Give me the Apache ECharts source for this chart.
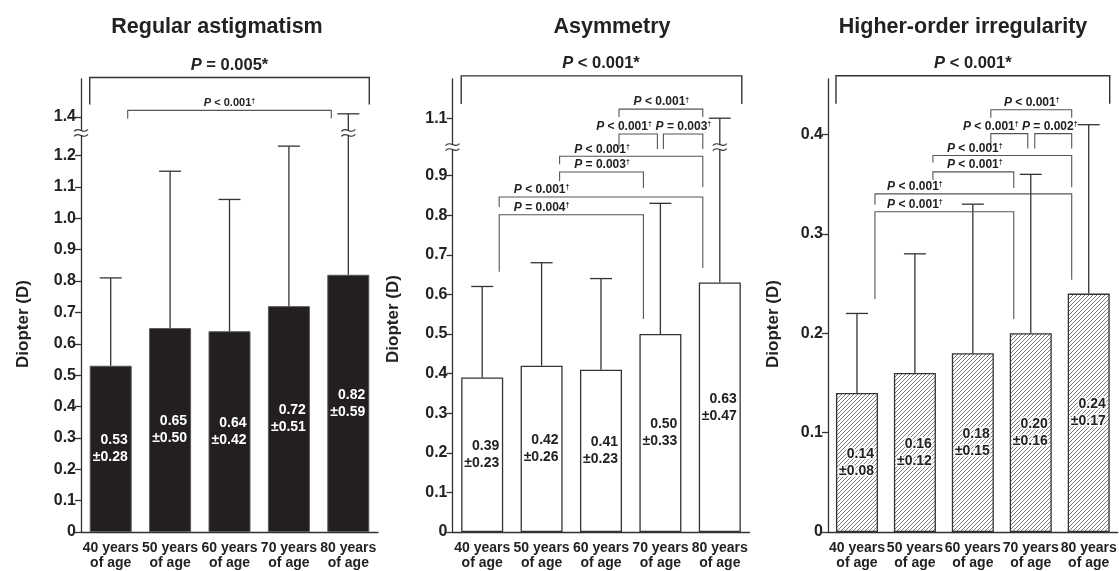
<!DOCTYPE html>
<html><head><meta charset="utf-8">
<script src="https://cdn.jsdelivr.net/npm/echarts@6/dist/echarts.min.js"></script>
<style>html,body{margin:0;padding:0;background:#fff}#c{width:1119px;height:571px}</style>
</head><body><div id="c"></div>
<script>
// ---------- data ----------
const categories = ['40 years\nof age','50 years\nof age','60 years\nof age','70 years\nof age','80 years\nof age'];
const panelTitles = ['Regular astigmatism','Asymmetry','Higher-order irregularity'];
const yAxisName = 'Diopter (D)';
const regularMean = [0.53,0.65,0.64,0.72,0.82];
const regularSD   = [0.28,0.50,0.42,0.51,0.59];
const asymMean = [0.39,0.42,0.41,0.50,0.63];
const asymSD   = [0.23,0.26,0.23,0.33,0.47];
const hoiMean = [0.14,0.16,0.18,0.20,0.24];
const hoiSD   = [0.08,0.12,0.15,0.16,0.17];
const regularTicks = [0,0.1,0.2,0.3,0.4,0.5,0.6,0.7,0.8,0.9,1.0,1.1,1.2,1.4];
const asymTicks = [0,0.1,0.2,0.3,0.4,0.5,0.6,0.7,0.8,0.9,1.1];
const hoiTicks = [0,0.1,0.2,0.3,0.4];
const regularP = ['P = 0.005*','P < 0.001†'];
const asymP = ['P < 0.001*','P < 0.001†','P < 0.001†','P = 0.003†','P < 0.001†','P = 0.003†','P < 0.001†','P = 0.004†'];
const hoiP = ['P < 0.001*','P < 0.001†','P < 0.001†','P = 0.002†','P < 0.001†','P < 0.001†','P < 0.001†','P < 0.001†'];

// ---------- layout (positions / styles) ----------
const FONT = "'Liberation Sans', Arial, Helvetica, sans-serif";
const INK = '#222';
// bracket geometry: [Lcat, Ldx(px), Rcat, Rdx(px), y, legL, legR, labelCat, labelDx(px), big]
const layout = [
  {left:81, titleX:217, nameX:23, nameY:324, max:1.444, brk:{at:1.3,gap:0.077,mark:1.272}, smallFont:11,
   geo:[[0,-21,4,21,1.449,1.363,1.363,2,0,1],[0,17,4,-17,1.344,1.318,1.318,2,0,0]]},
  {left:452.5, titleX:612, nameX:393, nameY:319, max:1.144, brk:{at:1.0,gap:0.055,mark:0.972}, smallFont:12,
   geo:[[0,-21,4,22,1.152,1.081,1.081,2,0,1],
        [2,18,4,-17,1.068,1.048,1.048,3,1,0],
        [2,18,3,-3,1.005,0.967,0.967,2,23,0],
        [3,3,4,-17,1.005,0.967,0.967,3,23,0],
        [1,18,4,-17,0.949,0.929,0.871,2,1,0],
        [1,18,3,-17,0.909,0.886,0.869,2,1,0],
        [0,17,4,-17,0.846,0.821,0.667,1,0,0],
        [0,17,3,-17,0.801,0.657,0.538,1,0,0]]},
  {left:828, titleX:963, nameX:773, nameY:324, max:0.456, brk:null, smallFont:12,
   geo:[[0,-21,4,21,0.4592,0.431,0.431,2,0,1],
        [2,18,4,-17,0.425,0.417,0.417,3,1,0],
        [2,18,3,-3,0.401,0.386,0.386,2,18,0],
        [3,4,4,-17,0.401,0.386,0.386,3,19,0],
        [1,18,4,-17,0.379,0.372,0.347,2,2,0],
        [1,18,3,-17,0.3625,0.3545,0.3464,2,2,0],
        [0,18,4,-17,0.3404,0.3293,0.2538,1,0,0],
        [0,18,3,-17,0.3223,0.2346,0.2145,1,0,0]]}
];
const panels = [
  {mean:regularMean, sd:regularSD, ticks:regularTicks, p:regularP},
  {mean:asymMean, sd:asymSD, ticks:asymTicks, p:asymP},
  {mean:hoiMean, sd:hoiSD, ticks:hoiTicks, p:hoiP}
];

// hatch pattern
const hatch = document.createElement('canvas');
hatch.width = 4; hatch.height = 4;
(function(){
  const c = hatch.getContext('2d');
  c.fillStyle = '#fff'; c.fillRect(0,0,4,4);
  c.strokeStyle = '#444'; c.lineWidth = 0.7;
  c.beginPath();
  c.moveTo(0,4); c.lineTo(4,0);
  c.moveTo(-1,1); c.lineTo(1,-1);
  c.moveTo(3,5); c.lineTo(5,3);
  c.stroke();
})();

function richP(s){ return s.replace(/^P/, '{i|P}').replace('†','{s|†}'); }

const grids=[], xAxes=[], yAxes=[], series=[], titles=[], graphics=[];
panels.forEach((pn, k) => {
  const L = layout[k];
  const f = v => (L.brk && v > L.brk.at) ? v - L.brk.gap : v;
  const inv = d => (L.brk && d > L.brk.mark) ? d + L.brk.gap : d;
  grids.push({left:L.left, width:297, top:79, bottom:39, containLabel:false});
  xAxes.push({type:'category', gridIndex:k, data:categories,
    axisLine:{lineStyle:{color:'#333', width:1.3}}, axisTick:{show:false},
    axisLabel:{interval:0, fontSize:14, fontWeight:'bold', fontFamily:FONT, color:INK, lineHeight:15, margin:9}});
  const tv = pn.ticks.map(f);
  yAxes.push({type:'value', gridIndex:k, min:0, max:L.max,
    axisLine:{show:true, lineStyle:{color:'#333', width:1.3}},
    axisTick:{show:true, length:6, customValues:tv, lineStyle:{color:'#333', width:1.3}},
    splitLine:{show:false},
    axisLabel:{customValues:tv, fontSize:16, fontWeight:'bold', fontFamily:FONT, color:INK, margin:5,
      formatter: v => { const r = inv(v); return Math.abs(r) < 1e-9 ? '0' : r.toFixed(1); }}});
  const itemStyle = k===0 ? {color:'#231f20', borderColor:'#5a5a5a', borderWidth:1}
                  : k===1 ? {color:'#fff', borderColor:'#333', borderWidth:1.3}
                  : {color:{image:hatch, repeat:'repeat'}, borderColor:'#333', borderWidth:1.3};
  series.push({type:'bar', xAxisIndex:k, yAxisIndex:k, barWidth:42, data:pn.mean.map(f), itemStyle,
    label:{show:true, position:'inside', align:'right', offset:[17,0],
      fontSize:14, fontWeight:'bold', fontFamily:FONT, lineHeight:17,
      color: k===0 ? '#fff' : INK,
      textBorderColor: k===2 ? 'rgba(255,255,255,0.85)' : 'transparent', textBorderWidth: k===2 ? 3 : 0,
      formatter: p => pn.mean[p.dataIndex].toFixed(2) + '\n±' + pn.sd[p.dataIndex].toFixed(2)},
    silent:true, z:2});
  // error bars (upper only)
  series.push({type:'custom', xAxisIndex:k, yAxisIndex:k, z:3, silent:true, clip:false,
    data: pn.mean.map((m,i) => [i, f(m), f(m + pn.sd[i])]),
    encode:{x:0, y:[1,2]},
    renderItem:(params, api) => {
      const a = api.coord([api.value(0), api.value(1)]);
      const b = api.coord([api.value(0), api.value(2)]);
      const st = {stroke:'#333', lineWidth:1.3};
      return {type:'group', children:[
        {type:'line', shape:{x1:a[0], y1:a[1], x2:b[0], y2:b[1]}, style:st},
        {type:'line', shape:{x1:b[0]-11, y1:b[1], x2:b[0]+11, y2:b[1]}, style:st}
      ]};
    }});
  // brackets
  series.push({type:'custom', xAxisIndex:k, yAxisIndex:k, z:4, silent:true, clip:false,
    data: L.geo.map(g => [g[0], g[4]]), encode:{x:0, y:1},
    renderItem:(params, api) => {
      const g = L.geo[params.dataIndex];
      const big = g[9] === 1;
      const y = api.coord([g[0], g[4]])[1];
      const xL = api.coord([g[0], g[4]])[0] + g[1];
      const xR = api.coord([g[2], g[4]])[0] + g[3];
      const yl = api.coord([g[0], g[5]])[1];
      const yr = api.coord([g[2], g[6]])[1];
      const xt = api.coord([g[7], g[4]])[0] + g[8];
      const fs = big ? 16.5 : L.smallFont;
      return {type:'group', children:[
        {type:'polyline', shape:{points:[[xL,yl],[xL,y],[xR,y],[xR,yr]]},
          style:{stroke: big ? '#333' : '#555', lineWidth: big ? 1.4 : 1.1, fill:'none'}},
        {type:'text', x:xt, y: y - (big ? 12 : 7),
          style:{text: richP(pn.p[params.dataIndex]), fontSize:fs, fontWeight:'bold', fontFamily:FONT, fill:INK,
            align:'center', verticalAlign:'middle',
            rich:{i:{fontStyle:'italic', fontWeight:'bold', fontSize:fs, fontFamily:FONT, fill:INK},
                  s:{fontSize: Math.round(fs*0.6), fontWeight:'bold', fontFamily:FONT, fill:INK, verticalAlign:'top'}}}}
      ]};
    }});
  // axis break marks
  if (L.brk) {
    series.push({type:'custom', xAxisIndex:k, yAxisIndex:k, z:5, silent:true, clip:false,
      data:[[4, L.brk.mark]], encode:{x:0, y:1},
      renderItem:(params, api) => {
        const p = api.coord([4, L.brk.mark]);
        const mk = (cx, cy) => {
          const wave = dy => ({type:'bezierCurve',
            shape:{x1:cx-7, y1:cy+dy+1, x2:cx+7, y2:cy+dy-1, cpx1:cx-2, cpy1:cy+dy-5, cpx2:cx+2, cpy2:cy+dy+5},
            style:{stroke:'#333', lineWidth:1.1, fill:'none'}});
          return [
            {type:'rect', shape:{x:cx-8, y:cy-2, width:16, height:4}, style:{fill:'#fff'}},
            wave(-2.5), wave(2.5)
          ];
        };
        return {type:'group', children:[...mk(params.coordSys.x, p[1]), ...mk(p[0], p[1])]};
      }});
  }
  titles.push({text:panelTitles[k], left:L.titleX, top:16, textAlign:'center', padding:0,
    textStyle:{fontSize:21.5, fontWeight:'bold', fontFamily:FONT, color:INK}});
  graphics.push({type:'text', x:L.nameX, y:L.nameY, rotation:Math.PI/2,
    style:{text:yAxisName, font:'bold 17px ' + FONT, fill:INK, align:'center', verticalAlign:'middle'}});
});

const chart = echarts.init(document.getElementById('c'), null, {renderer:'canvas'});
chart.setOption({
  animation:false, backgroundColor:'#fff',
  title:titles, grid:grids, xAxis:xAxes, yAxis:yAxes, series, graphic:graphics
});
</script></body></html>
